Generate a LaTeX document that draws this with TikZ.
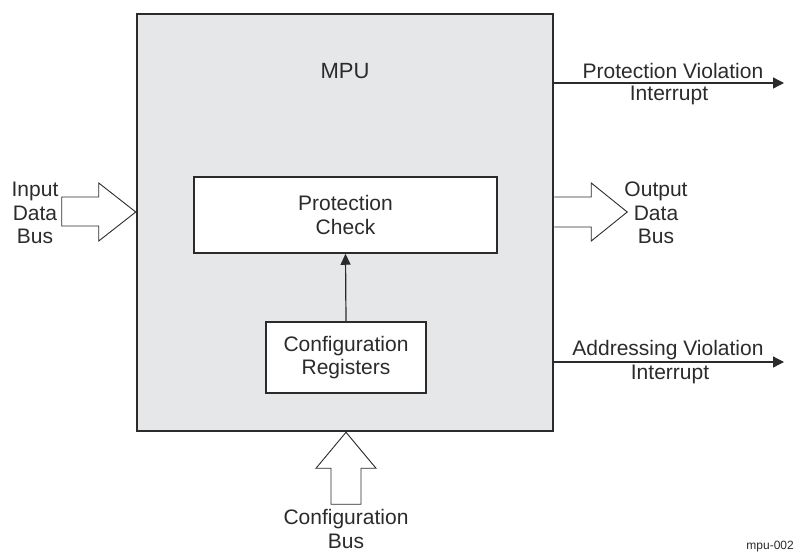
\documentclass[tikz,border=0pt]{standalone}
\usepackage{fontspec}
\setmainfont{Liberation Sans}
\usetikzlibrary{positioning,arrows.meta}
\definecolor{mpugray}{HTML}{E6E7E8}
\definecolor{inkgray}{HTML}{2B2B2B}

\begin{document}
\begin{tikzpicture}[x=1pt,y=-1pt,
  font=\fontsize{21}{23.5}\selectfont,
  every node/.style={text=inkgray},
  blockbox/.style={draw=inkgray, line width=1.5pt, fill=white, align=center, inner sep=0pt},
  busarrow/.style={draw=inkgray, line width=0.9pt, fill=white, line join=miter},
  sigline/.style={draw=inkgray, line width=1.3pt, -{Triangle[length=11pt,width=11pt]}},
  lbl/.style={align=center}]

\clip (0,0) rectangle (795,552);

%MPU block
\node[draw=inkgray, line width=2.5pt, fill=mpugray, minimum width=416pt,
  minimum height=417pt, inner sep=0pt] (mpu) at (345,222.5) {};
\node[font=\fontsize{22}{26}\selectfont] (mputitle) at (345,71) {MPU};

%inner blocks
\node[blockbox, minimum width=303pt, minimum height=76pt] (protcheck) at (345.5,215)
  {Protection\\Check};
\node[blockbox, minimum width=160pt, minimum height=71pt] (confregs) at (346,357.5)
  {Configuration\\Registers};
\draw[draw=inkgray, line width=1.2pt, -{Triangle[length=11pt,width=10pt]}]
  (confregs.north) -- (protcheck.south);

%input data bus
\coordinate (inbus) at (mpu.west |- 0,212);
\draw[busarrow] (inbus) -- ++(-37,-29) -- ++(0,14) -- ++(-37,0) -- ++(0,29)
  -- ++(37,0) -- ++(0,15) -- cycle;
\node[lbl] (inlabel) at (35,213) {Input\\Data\\Bus};

%output data bus
\coordinate (outbus) at (mpu.east |- 0,212);
\draw[busarrow] (outbus) ++(0,-15) -- ++(37,0) -- ++(0,-14) -- ++(36,29)
  -- ++(-36,29) -- ++(0,-14) -- ++(-37,0);
\node[lbl] (outlabel) at (656,213) {Output\\Data\\Bus};

%configuration bus
\coordinate (confbus) at (mpu.south -| confregs.south);
\draw[busarrow] (confbus) -- ++(30,36) -- ++(-15,0) -- ++(0,36) -- ++(-30,0)
  -- ++(0,-36) -- ++(-15,0) -- cycle;
\node[lbl] (conflabel) at (346,529) {Configuration\\Bus};

%interrupts
\coordinate (protint) at (784,83);
\draw[sigline] (mpu.east |- protint) -- (protint);
\node (protlabel) at (673,71) {Protection Violation};
\node (protlabel2) at (669,95) {Interrupt};

\coordinate (addrint) at (784,362);
\draw[sigline] (mpu.east |- addrint) -- (addrint);
\node (addrlabel) at (668,350) {Addressing Violation};
\node (addrlabel2) at (670,374) {Interrupt};

\node[anchor=base east, inner sep=1pt, font=\fontsize{12}{14}\selectfont] (figid) at (795,549) {mpu-002};

\end{tikzpicture}
\end{document}
